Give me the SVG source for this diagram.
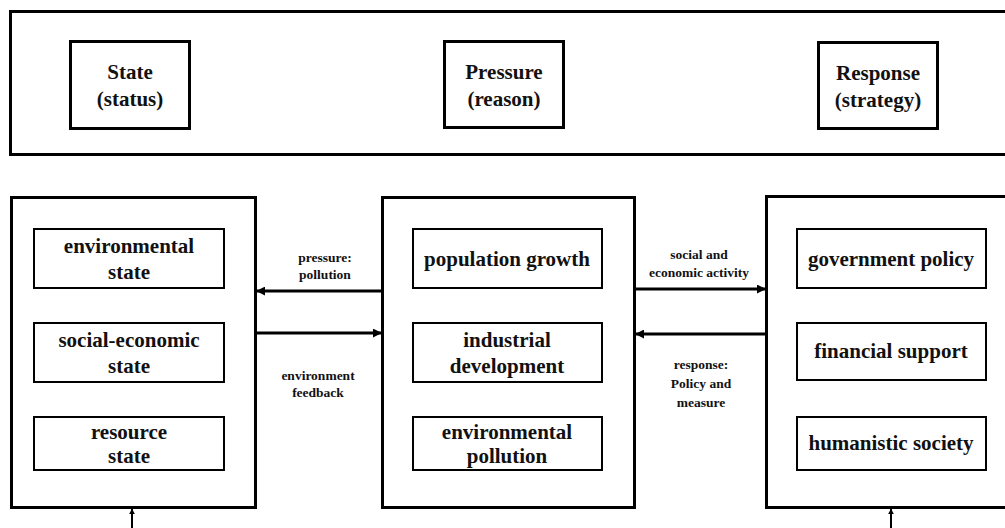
<svg xmlns="http://www.w3.org/2000/svg" width="1005" height="528" viewBox="0 0 1005 528">
<defs>
<marker id="ah" viewBox="0 0 10 10" refX="9" refY="5" markerWidth="3" markerHeight="3" orient="auto" markerUnits="strokeWidth">
<path d="M0,0 L10,5 L0,10 Z" fill="#000"/>
</marker>
</defs>
<style>
.outer{fill:#fff;stroke:#000;stroke-width:3}
.inner{fill:#fff;stroke:#000;stroke-width:2}
.hdr{fill:#fff;stroke:#000;stroke-width:3}
.t{font-family:"Liberation Serif","Times New Roman",serif;font-weight:bold;font-size:21px;fill:#111;text-anchor:middle}
.s{font-family:"Liberation Serif","Times New Roman",serif;font-weight:bold;font-size:13.5px;fill:#111;text-anchor:middle}
.c{stroke:#000;stroke-width:3;fill:none;marker-end:url(#ah)}
.c2{stroke:#000;stroke-width:2;fill:none;marker-end:url(#ah)}
</style>
<rect width="1005" height="528" fill="#fff"/>
<g id="top-panel">
<rect class="outer" x="10.5" y="11.5" width="1000" height="143"/>
</g>
<g id="state-header">
<rect class="hdr" x="70.5" y="41.5" width="119" height="87"/>
<text class="t" x="130" y="79">State</text>
<text class="t" x="130" y="106">(status)</text>
</g>
<g id="pressure-header">
<rect class="hdr" x="444.5" y="41.5" width="119" height="86"/>
<text class="t" x="504" y="79">Pressure</text>
<text class="t" x="504" y="106">(reason)</text>
</g>
<g id="response-header">
<rect class="hdr" x="818.5" y="42.5" width="119" height="86"/>
<text class="t" x="878" y="80">Response</text>
<text class="t" x="878" y="107">(strategy)</text>
</g>
<g id="state-box">
<rect class="outer" x="11.5" y="197.5" width="244" height="310"/>
</g>
<g id="environmental-state">
<rect class="inner" x="34" y="229" width="190" height="59"/>
<text class="t" x="129" y="253">environmental</text>
<text class="t" x="129" y="279">state</text>
</g>
<g id="social-economic-state">
<rect class="inner" x="34" y="323" width="190" height="59"/>
<text class="t" x="129" y="347">social-economic</text>
<text class="t" x="129" y="373">state</text>
</g>
<g id="resource-state">
<rect class="inner" x="34" y="417" width="190" height="53"/>
<text class="t" x="129" y="439">resource</text>
<text class="t" x="129" y="463">state</text>
</g>
<g id="pressure-box">
<rect class="outer" x="382.5" y="197.5" width="252" height="310"/>
</g>
<g id="population-growth">
<rect class="inner" x="413" y="229" width="189" height="59"/>
<text class="t" x="507" y="266">population growth</text>
</g>
<g id="industrial-development">
<rect class="inner" x="413" y="323" width="189" height="59"/>
<text class="t" x="507" y="347">industrial</text>
<text class="t" x="507" y="373">development</text>
</g>
<g id="environmental-pollution">
<rect class="inner" x="413" y="417" width="189" height="53"/>
<text class="t" x="507" y="439">environmental</text>
<text class="t" x="507" y="463">pollution</text>
</g>
<g id="response-box">
<rect class="outer" x="766.5" y="196.5" width="250" height="311"/>
</g>
<g id="government-policy">
<rect class="inner" x="797" y="229" width="189" height="59"/>
<text class="t" x="891" y="266">government policy</text>
</g>
<g id="financial-support">
<rect class="inner" x="797" y="323" width="189" height="57"/>
<text class="t" x="891" y="358">financial support</text>
</g>
<g id="humanistic-society">
<rect class="inner" x="797" y="417" width="189" height="53"/>
<text class="t" x="891" y="450">humanistic society</text>
</g>
<g id="connectors">
<line class="c" x1="382" y1="291" x2="257" y2="291"/>
<line class="c" x1="256" y1="333" x2="381" y2="333"/>
<line class="c" x1="635" y1="289" x2="765" y2="289"/>
<line class="c" x1="766" y1="334" x2="636" y2="334"/>
<line class="c2" x1="132" y1="528" x2="132" y2="509"/>
<line class="c2" x1="891" y1="528" x2="891" y2="509"/>
</g>
<g id="labels">
<text class="s" x="325" y="262">pressure:</text>
<text class="s" x="325" y="279">pollution</text>
<text class="s" x="318" y="380">environment</text>
<text class="s" x="318" y="397">feedback</text>
<text class="s" x="699" y="259">social and</text>
<text class="s" x="699" y="277">economic activity</text>
<text class="s" x="701" y="369">response:</text>
<text class="s" x="701" y="388">Policy and</text>
<text class="s" x="701" y="407">measure</text>
</g>
</svg>
